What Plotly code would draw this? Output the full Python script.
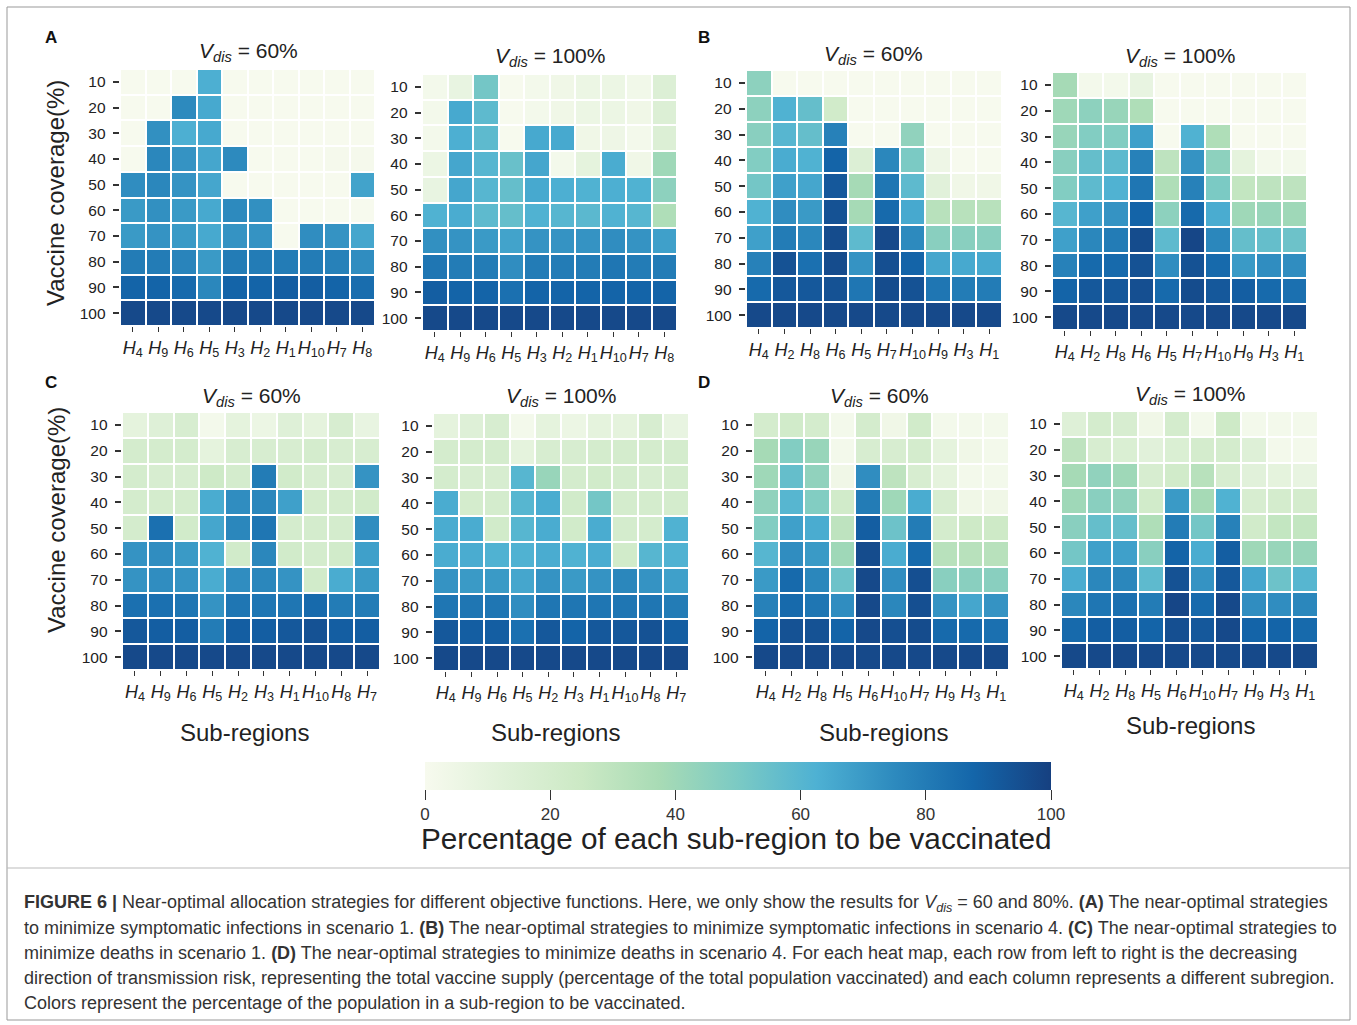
import plotly.graph_objects as go

coverage = ["10", "20", "30", "40", "50", "60", "70", "80", "90", "100"]

cols_A = ["H4", "H9", "H6", "H5", "H3", "H2", "H1", "H10", "H7", "H8"]
cols_B = ["H4", "H2", "H8", "H6", "H5", "H7", "H10", "H9", "H3", "H1"]
cols_C = ["H4", "H9", "H6", "H5", "H2", "H3", "H1", "H10", "H8", "H7"]
cols_D = ["H4", "H2", "H8", "H5", "H6", "H10", "H7", "H9", "H3", "H1"]

z_A60 = [
    [0, 0, 0, 63, 0, 0, 0, 0, 0, 0],
    [0, 0, 75, 65, 0, 0, 0, 0, 0, 0],
    [0, 73, 63, 65, 0, 0, 0, 0, 0, 0],
    [0, 76, 72, 66, 75, 0, 0, 0, 1, 1],
    [74, 76, 72, 66, 0, 0, 0, 0, 0, 67],
    [70, 73, 70, 65, 75, 73, 0, 0, 0, 0],
    [70, 72, 70, 65, 72, 72, 0, 74, 72, 66],
    [80, 80, 77, 70, 80, 80, 80, 80, 78, 74],
    [88, 88, 86, 76, 88, 88, 90, 90, 88, 85],
    [97, 97, 97, 97, 97, 97, 97, 97, 97, 97],
]
z_A100 = [
    [2, 8, 52, 0, 2, 4, 6, 6, 3, 15],
    [2, 65, 58, 0, 2, 4, 6, 6, 4, 15],
    [2, 63, 58, 0, 65, 65, 4, 5, 2, 15],
    [6, 66, 60, 55, 66, 2, 10, 64, 4, 40],
    [8, 66, 60, 56, 65, 63, 62, 63, 62, 45],
    [62, 64, 58, 56, 62, 60, 59, 62, 60, 35],
    [73, 72, 70, 67, 72, 72, 72, 74, 72, 68],
    [82, 80, 80, 74, 80, 80, 80, 82, 80, 80],
    [90, 88, 88, 84, 88, 88, 88, 88, 88, 88],
    [97, 97, 97, 97, 97, 97, 97, 97, 97, 97],
]
z_B60 = [
    [45, 0, 0, 0, 0, 0, 0, 0, 0, 0],
    [45, 62, 56, 22, 0, 0, 0, 0, 0, 0],
    [46, 60, 56, 78, 0, 0, 44, 0, 0, 0],
    [48, 64, 62, 88, 15, 76, 50, 5, 0, 0],
    [52, 68, 66, 92, 38, 82, 58, 12, 4, 4],
    [62, 74, 70, 94, 38, 86, 65, 32, 32, 32],
    [68, 80, 76, 96, 58, 97, 75, 46, 46, 46],
    [78, 94, 84, 96, 72, 95, 88, 66, 65, 65],
    [86, 92, 92, 94, 82, 96, 94, 82, 80, 80],
    [97, 97, 97, 97, 97, 97, 97, 97, 97, 97],
]
z_B100 = [
    [38, 2, 2, 8, 0, 0, 0, 0, 0, 0],
    [40, 45, 42, 35, 0, 0, 0, 0, 0, 0],
    [42, 48, 48, 68, 0, 62, 35, 0, 0, 0],
    [46, 56, 58, 78, 30, 72, 45, 10, 2, 2],
    [48, 58, 62, 82, 35, 78, 50, 28, 30, 30],
    [60, 68, 72, 88, 45, 86, 64, 40, 42, 40],
    [68, 76, 80, 96, 58, 98, 76, 56, 56, 54],
    [78, 86, 86, 94, 74, 94, 86, 70, 74, 74],
    [88, 92, 92, 95, 86, 96, 92, 90, 86, 84],
    [97, 97, 97, 97, 97, 97, 97, 97, 97, 97],
]
z_C60 = [
    [10, 14, 18, 2, 10, 6, 14, 10, 18, 8],
    [20, 20, 20, 10, 18, 18, 18, 20, 18, 18],
    [20, 18, 18, 24, 20, 80, 22, 18, 18, 72],
    [20, 20, 20, 64, 74, 76, 68, 20, 20, 22],
    [20, 84, 22, 66, 76, 82, 20, 20, 20, 74],
    [72, 74, 70, 62, 22, 76, 22, 20, 22, 68],
    [72, 74, 72, 64, 74, 76, 72, 22, 64, 70],
    [84, 84, 82, 72, 82, 82, 82, 86, 80, 80],
    [92, 90, 90, 80, 90, 90, 92, 94, 90, 90],
    [97, 97, 97, 97, 97, 97, 97, 97, 97, 97],
]
z_C100 = [
    [10, 14, 18, 2, 10, 6, 10, 10, 18, 8],
    [20, 20, 20, 10, 18, 18, 20, 20, 20, 20],
    [20, 18, 18, 60, 42, 20, 22, 20, 18, 20],
    [64, 20, 20, 60, 64, 22, 52, 20, 20, 20],
    [64, 64, 22, 60, 64, 22, 64, 20, 20, 62],
    [64, 64, 62, 62, 64, 62, 64, 22, 60, 62],
    [72, 70, 70, 66, 72, 70, 72, 76, 72, 68],
    [82, 82, 82, 74, 82, 82, 82, 82, 82, 80],
    [92, 90, 90, 84, 92, 88, 92, 92, 94, 90],
    [97, 97, 97, 97, 97, 97, 97, 97, 97, 97],
]
z_D60 = [
    [20, 22, 20, 2, 20, 4, 22, 2, 2, 2],
    [38, 48, 42, 2, 18, 18, 20, 10, 4, 2],
    [40, 56, 44, 4, 74, 30, 18, 10, 2, 2],
    [44, 60, 48, 22, 80, 40, 64, 18, 4, 4],
    [48, 68, 64, 30, 90, 54, 80, 20, 24, 24],
    [60, 74, 70, 40, 96, 64, 86, 32, 32, 32],
    [70, 86, 76, 54, 97, 74, 95, 46, 46, 46],
    [78, 86, 82, 74, 97, 76, 95, 72, 66, 72],
    [88, 94, 94, 88, 97, 95, 96, 86, 86, 84],
    [97, 97, 97, 97, 97, 97, 97, 97, 97, 97],
]
z_D100 = [
    [14, 20, 18, 4, 20, 2, 24, 2, 2, 2],
    [30, 18, 16, 12, 16, 20, 20, 14, 2, 2],
    [38, 44, 40, 18, 22, 32, 18, 12, 10, 8],
    [40, 46, 44, 22, 70, 38, 62, 18, 20, 20],
    [46, 56, 56, 35, 80, 52, 78, 22, 28, 28],
    [52, 68, 68, 46, 88, 64, 90, 40, 42, 42],
    [64, 76, 76, 58, 94, 72, 92, 66, 54, 60],
    [76, 82, 84, 80, 98, 86, 97, 74, 74, 76],
    [86, 90, 90, 88, 95, 92, 97, 88, 88, 86],
    [97, 97, 97, 97, 97, 97, 97, 97, 97, 97],
]

panel_titles = ["60%", "100%", "60%", "100%", "60%", "100%", "60%", "100%"]
cbar_ticks = [0, 20, 40, 60, 80, 100]

gnbu = [
    [0.0, "rgb(247,250,238)"], [0.125, "rgb(224,241,217)"], [0.25, "rgb(204,233,197)"],
    [0.375, "rgb(168,219,181)"], [0.5, "rgb(123,202,196)"], [0.625, "rgb(78,177,211)"],
    [0.75, "rgb(45,138,190)"], [0.875, "rgb(20,102,170)"], [1.0, "rgb(22,64,128)"],
]

W, H = 1357, 1025
FONT = "Liberation Sans, Arial, sans-serif"

# pixel boxes: (x0, x1, y0, y1, title_x, title_y)
boxes = [
    (120, 375, 69, 326, 248, 52),
    (422, 677, 74, 331, 550, 57),
    (746, 1002, 70, 328, 874, 55),
    (1052, 1307, 72, 330, 1180, 57),
    (122, 380, 412, 670, 251, 397),
    (433, 689, 413, 671, 561, 397),
    (753, 1009, 412, 670, 880, 397),
    (1061, 1318, 411, 669, 1190, 395),
]
panels = [
    (cols_A, z_A60), (cols_A, z_A100), (cols_B, z_B60), (cols_B, z_B100),
    (cols_C, z_C60), (cols_C, z_C100), (cols_D, z_D60), (cols_D, z_D100),
]


def px_x(v):
    return v / W


def px_y(v):
    return 1 - v / H


def hlabel(c):
    return f"<i>H</i><sub>{c[1:]}</sub>"


fig = go.Figure()
layout = {}
annotations = []
for i, ((cols, z), box) in enumerate(zip(panels, boxes)):
    n = i + 1
    xa = "x" if n == 1 else f"x{n}"
    ya = "y" if n == 1 else f"y{n}"
    fig.add_trace(go.Heatmap(
        z=z, x=cols, y=coverage, coloraxis="coloraxis",
        xgap=2, ygap=2, xaxis=xa, yaxis=ya,
    ))
    x0, x1, y0, y1, tx, ty = box
    xk = "xaxis" if n == 1 else f"xaxis{n}"
    yk = "yaxis" if n == 1 else f"yaxis{n}"
    layout[xk] = dict(
        domain=[px_x(x0), px_x(x1)], anchor=ya, type="category",
        tickvals=cols, ticktext=[hlabel(c) for c in cols],
        ticks="outside", ticklen=5, tickcolor="#333", tickwidth=1,
        tickfont=dict(size=18, color="#222", family=FONT),
        showgrid=False, zeroline=False, showline=False, tickangle=0,
    )
    layout[yk] = dict(
        domain=[px_y(y1), px_y(y0)], anchor=xa, type="category",
        autorange="reversed", ticks="outside", ticklen=6, tickcolor="#333",
        tickwidth=1.5, ticksuffix=" ",
        tickfont=dict(size=15.5, color="#222", family=FONT),
        showgrid=False, zeroline=False, showline=False,
    )
    annotations.append(dict(
        x=px_x(tx), y=px_y(ty), xref="paper", yref="paper",
        text=f"<i>V</i><sub><i>dis</i></sub> = {panel_titles[i]}",
        showarrow=False, font=dict(size=21, color="#222", family=FONT),
        xanchor="center", yanchor="middle",
    ))

for letter, lx, ly in [("A", 51, 37), ("B", 704, 37), ("C", 51, 382), ("D", 704, 382)]:
    annotations.append(dict(
        x=px_x(lx), y=px_y(ly), xref="paper", yref="paper", text=f"<b>{letter}</b>",
        showarrow=False, font=dict(size=17, color="#111", family=FONT),
        xanchor="center", yanchor="middle",
    ))

for yy in [193, 520]:
    annotations.append(dict(
        x=px_x(56), y=px_y(yy), xref="paper", yref="paper", text="Vaccine coverage(%)",
        showarrow=False, textangle=-90, font=dict(size=24, color="#222", family=FONT),
        xanchor="center", yanchor="middle",
    ))

for sx, sy in [(244, 732), (555, 732), (883, 732), (1190, 725)]:
    annotations.append(dict(
        x=px_x(sx), y=px_y(sy), xref="paper", yref="paper", text="Sub-regions",
        showarrow=False, font=dict(size=24, color="#222", family=FONT),
        xanchor="center", yanchor="middle",
    ))

annotations.append(dict(
    x=px_x(736), y=px_y(838), xref="paper", yref="paper",
    text="Percentage of each sub-region to be vaccinated",
    showarrow=False, font=dict(size=29.7, color="#222", family=FONT),
    xanchor="center", yanchor="middle",
))

caption = [
    "<b>FIGURE 6 |</b> Near-optimal allocation strategies for different objective functions. Here, we only show the results for <i>V</i><sub><i>dis</i></sub> = 60 and 80%. <b>(A)</b> The near-optimal strategies",
    "to minimize symptomatic infections in scenario 1. <b>(B)</b> The near-optimal strategies to minimize symptomatic infections in scenario 4. <b>(C)</b> The near-optimal strategies to",
    "minimize deaths in scenario 1. <b>(D)</b> The near-optimal strategies to minimize deaths in scenario 4. For each heat map, each row from left to right is the decreasing",
    "direction of transmission risk, representing the total vaccine supply (percentage of the total population vaccinated) and each column represents a different subregion.",
    "Colors represent the percentage of the population in a sub-region to be vaccinated.",
]
for k, line in enumerate(caption):
    annotations.append(dict(
        x=px_x(22), y=px_y(903 + 25 * k), xref="paper", yref="paper", text=line,
        showarrow=False, font=dict(size=18, color="#333", family=FONT),
        xanchor="left", yanchor="middle", align="left",
    ))

shapes = [
    dict(type="rect", xref="paper", yref="paper", x0=px_x(7), x1=px_x(1350),
         y0=px_y(1020), y1=px_y(7), line=dict(color="#999", width=1)),
    dict(type="line", xref="paper", yref="paper", x0=px_x(7), x1=px_x(1350),
         y0=px_y(868), y1=px_y(868), line=dict(color="#bbb", width=1)),
]

fig.update_layout(
    width=W, height=H, margin=dict(l=0, r=0, t=0, b=0, pad=0),
    paper_bgcolor="white", plot_bgcolor="white",
    font=dict(family=FONT, color="#222"),
    coloraxis=dict(
        colorscale=gnbu, cmin=0, cmax=100,
        colorbar=dict(
            orientation="h", x=px_x(738), xanchor="center", y=px_y(762), yanchor="top",
            len=626, lenmode="pixels", thickness=28, thicknessmode="pixels",
            xpad=0, ypad=0, outlinewidth=0,
            tickvals=cbar_ticks, ticks="outside", ticklen=10, tickcolor="#333",
            tickfont=dict(size=17, color="#333", family=FONT),
        ),
    ),
    annotations=annotations, shapes=shapes, showlegend=False,
    **layout,
)

fig.write_html("out.html")
